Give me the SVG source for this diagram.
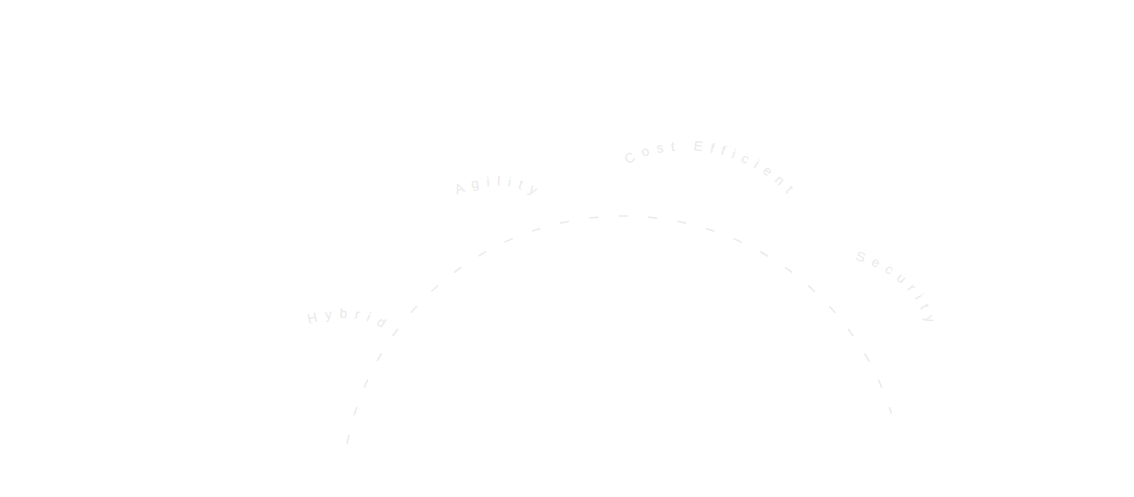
<svg xmlns="http://www.w3.org/2000/svg" width="1134" height="497" viewBox="0 0 1134 497">
  <style>
    .lbl { font-family: "Liberation Sans", Arial, sans-serif; font-size: 13.5px; letter-spacing: 7.3px; fill: #e9e9e9; }
    .arc { fill: none; stroke: #ebebeb; stroke-width: 1.6; stroke-dasharray: 9 20.5; }
  </style>
  <defs>
    <path id="p-hybrid" d="M309,324 C325,318 360,312 383,329 L399,341"/>
    <path id="p-agility" d="M457,195 C475,185 510,181 532,194 L549,204"/>
    <path id="p-cost" d="M628,165 C643,153 673,149.5 695,150.3 C725,153 760,165 787,193 L801,207"/>
    <path id="p-security" d="M855,260 C880,266 915,285 927,324 L933,343"/>
  </defs>
  <g id="connectors">
    <path class="arc" d="M347.1,443.9 A281,281 0 0 1 891.4,413.7"/>
  </g>
  <g id="label-hybrid">
    <text class="lbl"><textPath href="#p-hybrid">Hybrid</textPath></text>
  </g>
  <g id="label-agility">
    <text class="lbl"><textPath href="#p-agility">Agility</textPath></text>
  </g>
  <g id="label-cost-efficient">
    <text class="lbl"><textPath href="#p-cost">Cost Efficient</textPath></text>
  </g>
  <g id="label-security">
    <text class="lbl"><textPath href="#p-security">Security</textPath></text>
  </g>
</svg>
